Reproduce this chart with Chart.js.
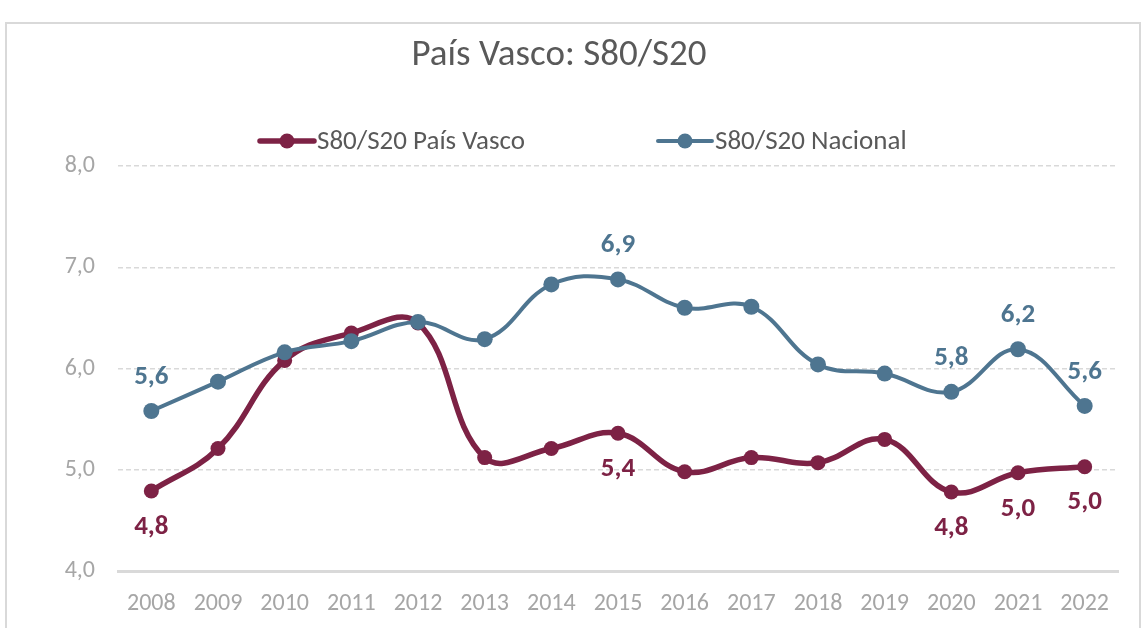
<!DOCTYPE html>
<html>
<head>
<meta charset="utf-8">
<script src="https://cdn.jsdelivr.net/npm/chart.js@4/dist/chart.umd.min.js"></script>
<style>
  html, body { margin: 0; padding: 0; background: #fff; }
  #wrap { position: relative; width: 1143px; height: 628px; }
</style>
</head>
<body>
<div id="wrap"><canvas id="c" width="1143" height="628"></canvas></div>
<script>
// Ratio S80/S20, 2008-2022
const years = ['2008','2009','2010','2011','2012','2013','2014','2015','2016','2017','2018','2019','2020','2021','2022'];
const paisVasco = [4.79, 5.21, 6.08, 6.35, 6.45, 5.12, 5.21, 5.36, 4.98, 5.12, 5.07, 5.30, 4.78, 4.97, 5.03];
const nacional  = [5.58, 5.87, 6.16, 6.27, 6.46, 6.29, 6.83, 6.88, 6.60, 6.61, 6.04, 5.95, 5.77, 6.19, 5.63];
const yTicks = [4, 5, 6, 7, 8];
// years whose value is printed next to the point
const labeledPaisVasco = [0, 7, 12, 13, 14];
const labeledNacional  = [0, 7, 12, 13, 14];
const seriesNames = ['S80/S20 País Vasco', 'S80/S20 Nacional'];

const MAROON = '#7d2245';
const STEEL  = '#4e7590';
const FONT = 'Carlito, Lato, sans-serif';
const fmt = v => v.toFixed(1).replace('.', ',');

// white background + thin frame around the whole figure
const framePlugin = {
  id: 'frame',
  beforeDraw(chart) {
    const ctx = chart.ctx;
    ctx.save();
    ctx.fillStyle = '#fff';
    ctx.fillRect(0, 0, chart.width, chart.height);
    ctx.strokeStyle = '#d9d9d9';
    ctx.lineWidth = 2;
    ctx.strokeRect(6, 23, 1134, 640);
    ctx.restore();
  }
};

// legend: line + dot marker, then the series name
const legendPlugin = {
  id: 'lineLegend',
  afterDraw(chart) {
    const ctx = chart.ctx;
    const y = 141;
    let x = 260;
    ctx.save();
    ctx.font = '27px ' + FONT;
    ctx.textBaseline = 'middle';
    chart.data.datasets.forEach((ds, i) => {
      ctx.strokeStyle = ds.borderColor;
      ctx.lineWidth = ds.borderWidth;
      ctx.lineCap = 'round';
      ctx.beginPath();
      ctx.moveTo(x, y);
      ctx.lineTo(x + 54, y);
      ctx.stroke();
      ctx.fillStyle = ds.borderColor;
      ctx.beginPath();
      ctx.arc(x + 27, y, 7.5, 0, Math.PI * 2);
      ctx.fill();
      ctx.fillStyle = '#595959';
      ctx.textAlign = 'left';
      ctx.fillText(ds.label, x + 57, y + 1);
      x += 57 + ctx.measureText(ds.label).width + 133;
    });
    ctx.restore();
  }
};

// value labels: above the national series, below the Basque series
const valueLabelPlugin = {
  id: 'valueLabels',
  afterDatasetsDraw(chart) {
    const ctx = chart.ctx;
    ctx.save();
    ctx.font = 'bold 27px ' + FONT;
    ctx.textAlign = 'center';
    ctx.textBaseline = 'middle';
    chart.data.datasets.forEach((ds, i) => {
      const meta = chart.getDatasetMeta(i);
      const offset = ds.labelOffset;
      ds.labeled.forEach(idx => {
        const pt = meta.data[idx];
        ctx.fillStyle = ds.borderColor;
        ctx.fillText(fmt(ds.data[idx]), pt.x, pt.y + offset);
      });
    });
    ctx.restore();
  }
};

new Chart(document.getElementById('c'), {
  type: 'line',
  data: {
    labels: years,
    datasets: [
      {
        label: seriesNames[0],
        data: paisVasco,
        borderColor: MAROON,
        backgroundColor: MAROON,
        borderWidth: 5.5,
        pointRadius: 7.5,
        pointBackgroundColor: MAROON,
        pointBorderWidth: 0,
        tension: 0.4,
        order: 2,
        labeled: labeledPaisVasco,
        labelOffset: 36
      },
      {
        label: seriesNames[1],
        data: nacional,
        borderColor: STEEL,
        backgroundColor: STEEL,
        borderWidth: 4,
        pointRadius: 8,
        pointBackgroundColor: STEEL,
        pointBorderWidth: 0,
        tension: 0.4,
        order: 1,
        labeled: labeledNacional,
        labelOffset: -34
      }
    ]
  },
  options: {
    responsive: false,
    animation: false,
    layout: { padding: { left: 0, right: 25, top: 0, bottom: 0 } },
    plugins: {
      legend: { display: false },
      tooltip: { enabled: false },
      title: {
        display: true,
        text: 'País Vasco: S80/S20',
        color: '#595959',
        font: { family: FONT, size: 37, weight: 'normal', lineHeight: 1.2 },
        padding: { top: 34, bottom: 87.6 }
      }
    },
    scales: {
      x: {
        type: 'category',
        offset: true,
        afterFit(scale) { scale.height = 57; },
        grid: { display: false, drawTicks: false },
        border: { display: true, color: '#d9d9d9', width: 3 },
        ticks: {
          color: '#a6a6a6',
          font: { family: FONT, size: 24 },
          padding: 19,
          maxRotation: 0,
          autoSkip: false
        }
      },
      y: {
        min: 4,
        max: 8,
        afterBuildTicks(scale) { scale.ticks = yTicks.map(v => ({ value: v })); },
        afterFit(scale) { scale.width = 118; },
        grid: { color: '#d9d9d9', lineWidth: 1.5, drawTicks: false },
        border: { display: false, dash: [5, 3] },
        ticks: {
          color: '#a6a6a6',
          font: { family: FONT, size: 24 },
          padding: 23,
          callback: v => fmt(v)
        }
      }
    }
  },
  plugins: [framePlugin, legendPlugin, valueLabelPlugin]
});
</script>
</body>
</html>
